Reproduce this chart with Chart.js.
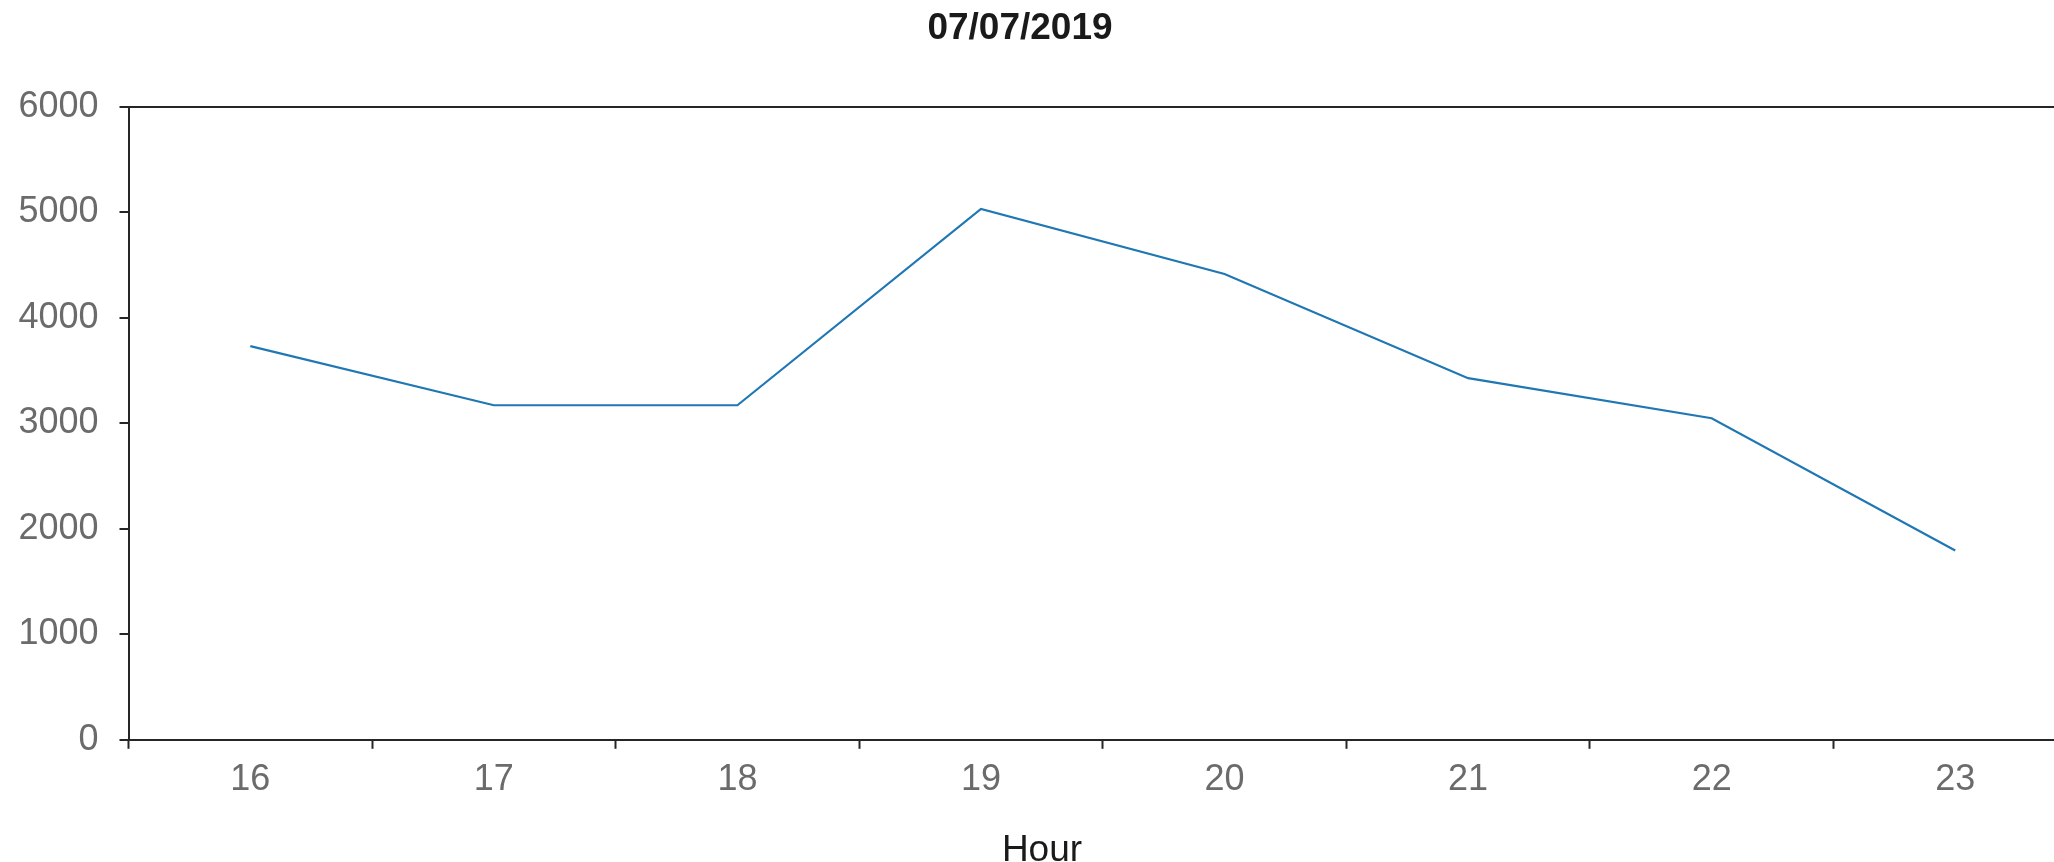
<!DOCTYPE html>
<html>
<head>
<meta charset="utf-8">
<title>07/07/2019</title>
<script src="https://cdn.jsdelivr.net/npm/chart.js@4/dist/chart.umd.min.js"></script>
<style>
    html, body { margin: 0; padding: 0; background: #fff; overflow: hidden; }
    #chart-wrap { width: 2054px; height: 862px; overflow: hidden; }
    #hour-chart { display: block; }
</style>
</head>
<body>
<div id="chart-wrap">
    <!-- canvas is a bit wider than the window: the plot runs off the right edge -->
    <canvas id="hour-chart" width="2100" height="862"></canvas>
</div>
<script>
// values
const chartTitle = '07/07/2019';
const xAxisTitle = 'Hour';
const hours = ['16', '17', '18', '19', '20', '21', '22', '23'];
const counts = [3733, 3172, 3172, 5034, 4417, 3429, 3049, 1795];
const yTicks = [0, 1000, 2000, 3000, 4000, 5000, 6000];

const AXIS_COLOR = '#262626';
const TICK_TEXT = '#6b6b6b';
const LINE_COLOR = '#1f77b4';
const FONT = "'Liberation Sans', Arial, Helvetica, sans-serif";

// title and x axis title are centred on the figure, not on the plot area
const figureLabels = {
    id: 'figureLabels',
    afterDraw(chart) {
        const ctx = chart.ctx;
        ctx.save();
        ctx.textAlign = 'center';
        ctx.textBaseline = 'middle';
        ctx.fillStyle = '#1a1a1a';
        ctx.font = 'bold 37px ' + FONT;
        ctx.fillText(chartTitle, 1020, 29);
        ctx.font = '37px ' + FONT;
        ctx.fillText(xAxisTitle, 1042, 851);
        ctx.restore();
    }
};

document.addEventListener('DOMContentLoaded', function() {
    const canvas = document.getElementById('hour-chart');
    new Chart(canvas, {
        type: 'line',
        data: {
            labels: hours,
            datasets: [{
                label: 'Count',
                data: counts,
                borderColor: LINE_COLOR,
                borderWidth: 2.2,
                pointRadius: 0,
                tension: 0,
                fill: false
            }]
        },
        plugins: [figureLabels],
        options: {
            responsive: false,
            animation: false,
            layout: {
                padding: { left: 0, right: 23, top: 107, bottom: 50 }
            },
            plugins: {
                legend: { display: false },
                tooltip: { enabled: false },
                title: { display: false }
            },
            scales: {
                x: {
                    offset: true,
                    grid: {
                        offset: true,
                        drawOnChartArea: false,
                        tickLength: 9,
                        tickWidth: 2,
                        tickColor: AXIS_COLOR
                    },
                    border: { display: true, color: AXIS_COLOR, width: 2 },
                    ticks: {
                        color: TICK_TEXT,
                        font: { family: FONT, size: 36 },
                        padding: 10,
                        maxRotation: 0,
                        autoSkip: false
                    }
                },
                y: {
                    min: yTicks[0],
                    max: yTicks[yTicks.length - 1],
                    afterFit: function(scale) { scale.width = 128.5; },
                    afterBuildTicks: function(scale) {
                        scale.ticks = yTicks.map(v => ({ value: v }));
                    },
                    grid: {
                        // only the top edge of the frame is drawn across the plot
                        color: ctx => (ctx.tick && ctx.tick.value === yTicks[yTicks.length - 1]) ? AXIS_COLOR : 'rgba(0,0,0,0)',
                        lineWidth: 2,
                        tickLength: 9,
                        tickWidth: 2,
                        tickColor: AXIS_COLOR
                    },
                    border: { display: true, color: AXIS_COLOR, width: 2 },
                    ticks: {
                        color: TICK_TEXT,
                        font: { family: FONT, size: 36 },
                        padding: 21,
                        callback: function(value) {
                            return String(value);
                        }
                    }
                }
            }
        }
    });
});
</script>
</body>
</html>
